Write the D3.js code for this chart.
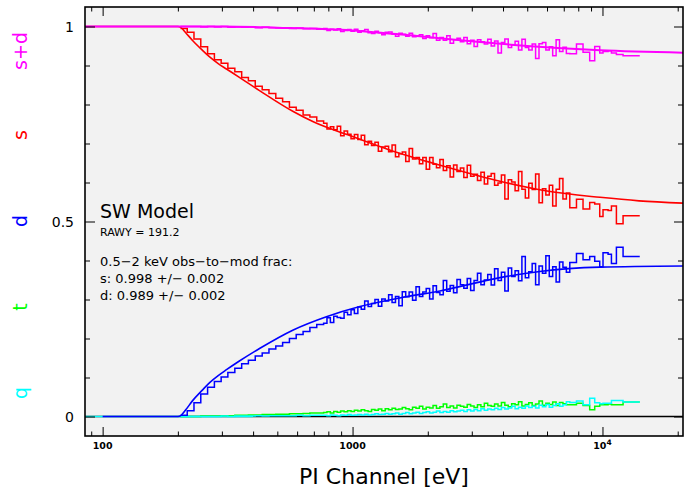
<!DOCTYPE html>
<html>
<head>
<meta charset="utf-8">
<script src="https://cdn.jsdelivr.net/npm/d3@7"></script>
<style>
  body { margin: 0; background: #fff; }
  svg { display: block; }
  text { font-family: "DejaVu Sans", sans-serif; }
</style>
</head>
<body>
<svg id="chart" width="686" height="494"></svg>
<script>
// histogram bin edges in eV (low staircase bins, fine bins, wide high-energy bins)
var binEdges = [
  205, 218, 232, 247, 263, 280, 298, 317, 338, 360, 383, 408, 435, 463, 493, 525, 559, 595, 634, 675, 719, 766,
  790, 815, 841, 868, 896, 925, 955, 986, 1017, 1050, 1083, 1118, 1154, 1191, 1229, 1268, 1309, 1351, 1394, 1439,
  1485, 1532, 1581, 1632, 1684, 1738, 1794, 1851, 1910, 1971, 2034, 2099, 2166, 2236, 2307, 2381, 2457, 2536,
  2617, 2701, 2787, 2876, 2968, 3063, 3161, 3262, 3367, 3474, 3586, 3700, 3819, 3941, 4067, 4197, 4331, 4470,
  4613, 4760, 4913, 5070, 5232, 5400, 5572, 5751, 5935, 6125, 6321, 6523, 6731, 6947, 7169, 7400,
  7870, 8360, 8890, 9310, 9750, 10050, 10530, 10860, 11370, 12090, 14100
];

// observed fractions per bin
var sdVals = [
  1, 1, 1, 0.999, 1, 0.999, 1, 0.998, 0.999, 0.998, 0.999, 0.997, 0.998, 0.997, 0.996, 0.997, 0.995, 0.996, 0.994, 0.995, 0.993,
  .995, .990, .993, .991, .994, .987, .990, .992, .988, .993,
  .985, .989, .992, .984, .982, .988, .984, .979, .985, .986,
  .980, .975, .983, .980, .975, .983, .974, .976, .979, .969,
  .976, .971, .982, .965, .972, .965, .976, .957, .966, .970,
  .961, .972, .956, .965, .949, .966, .961, .955, .967, .950,
  .963, .932, .959, .968, .946, .953, .962, .940, .967, .946,
  .940, .955, .918, .956, .959, .940, .948, .925, .966, .936,
  .947, .931,
  .930, .955, .934, .912, .949, .932, .936, .938, .932, .928, .925
];
var sVals = [
  0.995, 0.985, 0.968, 0.948, 0.93, 0.915, 0.906, 0.893, 0.884, 0.869, 0.861, 0.847, 0.838, 0.828, 0.816, 0.807, 0.793, 0.785, 0.773, 0.768, 0.758,
  .752, .737, .743, .735, .744, .720, .732, .724, .712, .723,
  .710, .721, .697, .706, .695, .703, .680, .691, .693, .679,
  .696, .666, .674, .678, .654, .687, .660, .664, .648, .664,
  .634, .664, .647, .638, .659, .631, .643, .614, .645, .628,
  .637, .613, .644, .616, .621, .605, .626, .596, .616, .623,
  .593, .599, .619, .558, .607, .601, .579, .628, .583, .560,
  .598, .582, .622, .548, .584, .568, .593, .540, .583, .610,
  .558, .573,
  .535, .557, .532, .549, .545, .513, .530, .528, .540, .494, .515
];
var dVals = [
  0.003, 0.015, 0.035, 0.058, 0.075, 0.09, 0.101, 0.113, 0.124, 0.135, 0.144, 0.155, 0.163, 0.173, 0.181, 0.19, 0.2, 0.21, 0.218, 0.228, 0.236,
  .239, .253, .241, .257, .254, .252, .267, .261, .274, .264,
  .281, .275, .296, .282, .290, .300, .283, .301, .296, .312,
  .292, .308, .284, .320, .307, .319, .298, .333, .308, .319,
  .328, .301, .335, .318, .312, .349, .321, .336, .317, .351,
  .338, .329, .354, .323, .349, .367, .338, .350, .364, .337,
  .379, .349, .370, .322, .381, .359, .374, .348, .410, .356,
  .371, .392, .338, .386, .367, .412, .359, .384, .345, .396,
  .383, .370,
  .395, .418, .402, .410, .398, .384, .420, .416, .392, .434, .410
];
var tVals = [
  0, 0, 0, 0.001, 0.001, 0.001, 0.002, 0.002, 0.003, 0.003, 0.004, 0.004, 0.005, 0.005, 0.006, 0.006, 0.007, 0.007, 0.008, 0.009, 0.009,
  .010, .012, .009, .013, .011, .014, .012, .015, .013, .016,
  .014, .017, .015, .013, .018, .016, .019, .015, .020, .017,
  .021, .018, .019, .023, .020, .017, .024, .021, .026, .019,
  .024, .022, .028, .021, .025, .032, .023, .027, .022, .029,
  .026, .024, .031, .027, .023, .030, .025, .034, .028, .026,
  .032, .027, .036, .029, .025, .033, .030, .038, .027, .031,
  .035, .028, .032, .040, .029, .034, .031, .037, .028, .036,
  .033, .030,
  .030, .034, .028, .017, .026, .030, .030, .032, .030, .030, .037
];
var qVals = [
  0, 0, 0, 0, 0, 0, 0.001, 0, 0.001, 0.001, 0.001, 0.002, 0.001, 0.002, 0.002, 0.002, 0.002, 0.003, 0.002, 0.003, 0.003,
  .003, .002, .004, .003, .002, .004, .003, .005, .003, .004,
  .005, .004, .006, .004, .005, .007, .005, .006, .008, .006,
  .007, .009, .006, .008, .010, .007, .009, .011, .008, .010,
  .012, .009, .011, .014, .010, .013, .011, .015, .012, .014,
  .016, .013, .017, .014, .018, .015, .020, .016, .019, .017,
  .021, .018, .023, .019, .022, .026, .020, .024, .021, .027,
  .023, .026, .022, .029, .025, .031, .024, .028, .033, .026,
  .030, .038,
  .036, .040, .030, .047, .035, .033, .034, .034, .041, .041, .037
];

// model curves [eV, fraction]
var sdModel = [[85, 1], [300, 1], [500, 0.997], [1000, 0.99], [1860, 0.975], [3230, 0.96], [5000, 0.95], [9780, 0.939], [21000, 0.933]];
var sModel = [[85, 1], [200, 1], [206, 0.997], [215, 0.984], [230, 0.963], [250, 0.94], [268, 0.922], [290, 0.905], [313, 0.891],
  [350, 0.871], [426, 0.835], [579, 0.782], [700, 0.755], [1000, 0.718], [1546, 0.675], [2400, 0.639], [3890, 0.603], [6000, 0.578],
  [9780, 0.562], [14000, 0.553], [21000, 0.547]];
var dModel = [[100, 0], [200, 0], [206, 0.003], [215, 0.017], [230, 0.042], [250, 0.067], [268, 0.087], [290, 0.105], [313, 0.12],
  [350, 0.141], [426, 0.175], [579, 0.222], [786, 0.256], [1070, 0.282], [1546, 0.304], [2235, 0.322], [3890, 0.356], [5610, 0.372],
  [9780, 0.383], [21000, 0.386]];
var qModel = [[85, 0], [400, 0]];

var yMajor = [0, 0.5, 1];
var yMinor = [0.1, 0.2, 0.3, 0.4, 0.6, 0.7, 0.8, 0.9];
var xMajor = [100, 1000, 10000];
var xMinor = [90, 200, 300, 400, 500, 600, 700, 800, 900, 2000, 3000, 4000, 5000, 6000, 7000, 8000, 9000, 20000];

var sideLabels = [
  {text: "s+d", color: "#ff00ff", y: 51},
  {text: "s", color: "#ff0000", y: 135},
  {text: "d", color: "#0000ff", y: 221},
  {text: "t", color: "#00ff00", y: 307},
  {text: "q", color: "#00ffff", y: 393}
];

var svg = d3.select("#chart");
var pLeft = 85, pRight = 683, pTop = 7, pBottom = 436;

var x = d3.scaleLog().domain([85, 21000]).range([pLeft, pRight]);
var y = d3.scaleLinear().domain([-0.05, 1.05]).range([pBottom, pTop]);

svg.append("rect").attr("x", pLeft).attr("y", pTop)
  .attr("width", pRight - pLeft).attr("height", pBottom - pTop)
  .attr("fill", "#f2f2f2");

svg.append("clipPath").attr("id", "plotclip").append("rect")
  .attr("x", pLeft).attr("y", pTop).attr("width", pRight - pLeft).attr("height", pBottom - pTop);

var plot = svg.append("g").attr("clip-path", "url(#plotclip)");

// zero line
plot.append("line").attr("x1", pLeft).attr("x2", pRight)
  .attr("y1", y(0)).attr("y2", y(0))
  .attr("stroke", "#000").attr("stroke-width", 1.5);

var modelLine = d3.line().x(d => x(d[0])).y(d => y(d[1])).curve(d3.curveMonotoneX);
var histLine = d3.line().x(d => x(d[0])).y(d => y(d[1])).curve(d3.curveStepAfter);

function histPts(vals) {
  var pts = vals.map((v, i) => [binEdges[i], v]);
  pts.push([binEdges[vals.length], vals[vals.length - 1]]);
  return pts;
}

function drawModel(data, color, w) {
  plot.append("path").attr("d", modelLine(data))
    .attr("fill", "none").attr("stroke", color).attr("stroke-width", w);
}
function drawHist(vals, color) {
  plot.append("path").attr("d", histLine(histPts(vals)))
    .attr("fill", "none").attr("stroke", color).attr("stroke-width", 1.5)
    .attr("stroke-linejoin", "miter");
}

drawModel(qModel, "#00ffff", 1.6);
drawHist(tVals, "#00ff00");
drawHist(qVals, "#00ffff");
drawHist(dVals, "#0000ff");
drawModel(dModel, "#0000ff", 1.6);
drawHist(sVals, "#ff0000");
drawModel(sModel, "#ff0000", 1.6);
drawHist(sdVals, "#ff00ff");
drawModel(sdModel, "#ff00ff", 2);

// axes (ticks pointing inward)
function noDomain(g) { g.select(".domain").remove(); g.selectAll("line").attr("stroke", "#000"); }

svg.append("g").attr("transform", "translate(0," + pBottom + ")")
  .call(d3.axisBottom(x).tickValues(xMinor).tickSize(-4.5).tickFormat(""))
  .call(noDomain);
svg.append("g").attr("transform", "translate(0," + pBottom + ")")
  .call(d3.axisBottom(x).tickValues(xMajor).tickSize(-9).tickFormat(""))
  .call(noDomain);
svg.append("g").attr("transform", "translate(0," + pTop + ")")
  .call(d3.axisTop(x).tickValues(xMinor).tickSize(-4.5).tickFormat(""))
  .call(noDomain);
svg.append("g").attr("transform", "translate(0," + pTop + ")")
  .call(d3.axisTop(x).tickValues(xMajor).tickSize(-9).tickFormat(""))
  .call(noDomain);

svg.append("g").attr("transform", "translate(" + pLeft + ",0)")
  .call(d3.axisLeft(y).tickValues(yMinor).tickSize(-5).tickFormat(""))
  .call(noDomain);
svg.append("g").attr("transform", "translate(" + pLeft + ",0)")
  .call(d3.axisLeft(y).tickValues(yMajor).tickSize(-10).tickFormat(""))
  .call(noDomain);
svg.append("g").attr("transform", "translate(" + pRight + ",0)")
  .call(d3.axisRight(y).tickValues(yMinor).tickSize(-5).tickFormat(""))
  .call(noDomain);
svg.append("g").attr("transform", "translate(" + pRight + ",0)")
  .call(d3.axisRight(y).tickValues(yMajor).tickSize(-9).tickFormat(""))
  .call(noDomain);

// frame
svg.append("rect").attr("x", pLeft).attr("y", pTop)
  .attr("width", pRight - pLeft).attr("height", pBottom - pTop)
  .attr("fill", "none").attr("stroke", "#000").attr("stroke-width", 1.6);

// y tick labels
svg.selectAll(".ylab").data(yMajor).enter().append("text")
  .attr("x", 74).attr("y", d => y(d) + 5)
  .attr("text-anchor", "end").attr("font-size", 14)
  .text(d => d3.format("~g")(d));

// x tick labels
xMajor.forEach(function (v) {
  var t = svg.append("text").attr("x", x(v)).attr("y", 449)
    .attr("text-anchor", "middle").attr("font-size", 9.5).attr("font-weight", "bold");
  if (v < 10000) {
    t.text(v);
  } else {
    t.text("10");
    t.append("tspan").attr("dy", -4).attr("font-size", 7.5).text("4");
  }
});

svg.append("text").attr("x", (pLeft + pRight) / 2).attr("y", 484)
  .attr("text-anchor", "middle").attr("font-size", 22)
  .text("PI Channel [eV]");

// rotated series labels on the left
svg.selectAll(".side").data(sideLabels).enter().append("text")
  .attr("transform", d => "translate(27," + d.y + ") rotate(-90)")
  .attr("text-anchor", "middle").attr("font-size", 19)
  .attr("fill", d => d.color)
  .text(d => d.text);

// annotation block
var note = svg.append("g");
note.append("text").attr("x", 100).attr("y", 218).attr("font-size", 19).text("SW Model");
note.append("text").attr("x", 100).attr("y", 236).attr("font-size", 11).text("RAWY = 191.2");
note.append("text").attr("x", 100).attr("y", 266).attr("font-size", 13).text("0.5\u22122 keV obs\u2212to\u2212mod frac:");
note.append("text").attr("x", 100).attr("y", 283).attr("font-size", 13).text("s: 0.998 +/\u2212 0.002");
note.append("text").attr("x", 100).attr("y", 300).attr("font-size", 13).text("d: 0.989 +/\u2212 0.002");
</script>
</body>
</html>
